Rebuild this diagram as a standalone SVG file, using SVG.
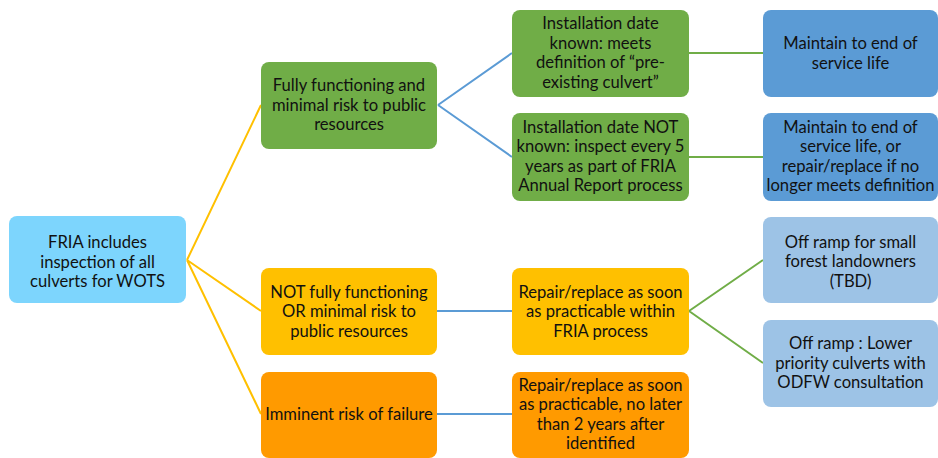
<svg xmlns="http://www.w3.org/2000/svg" width="938" height="458" viewBox="0 0 938 458">
  <style>
    .box { stroke: none; }
    .root { fill: #7DD5FD; }
    .green { fill: #70AD47; }
    .blue { fill: #5B9BD5; }
    .yellow { fill: #FFC000; }
    .orange { fill: #FF9A00; }
    .pale { fill: #9DC3E6; }
    text { font-family: Lato, "Liberation Sans", sans-serif; font-size: 16.6px; fill: #111111; text-anchor: middle; }
    .c-yellow { stroke: #FFC000; stroke-width: 2; fill: none; }
    .c-blue { stroke: #5B9BD5; stroke-width: 2; fill: none; }
    .c-green { stroke: #70AD47; stroke-width: 2; fill: none; }
  </style>

  <!-- connectors -->
  <g id="connectors">
    <path class="c-yellow" d="M187 260 L261 105 M187 260 L261 311 M187 260 L261 414"/>
    <path class="c-blue" d="M438 105 L512 53 M438 105 L512 157"/>
    <path class="c-green" d="M689 53 L763 53 M689 157 L763 157"/>
    <path class="c-blue" d="M437 311 L512 311 M437 414 L512 414"/>
    <path class="c-green" d="M689 311 L763 260 M689 311 L763 363"/>
  </g>

  <g id="root">
    <rect class="box root" x="9" y="216" width="177" height="87" rx="8"/>
    <text x="97.5" y="248">FRIA includes<tspan x="97.5" dy="19.5">inspection of all</tspan><tspan x="97.5" dy="19.5">culverts for WOTS</tspan></text>
  </g>

  <g id="fully-functioning">
    <rect class="box green" x="261" y="62" width="176" height="87" rx="8"/>
    <text x="349" y="91">Fully functioning and<tspan x="349" dy="19.5">minimal risk to public</tspan><tspan x="349" dy="19.5">resources</tspan></text>
  </g>

  <g id="date-known">
    <rect class="box green" x="512" y="10" width="177" height="87" rx="8"/>
    <text x="600.5" y="29">Installation date<tspan x="600.5" dy="19.7">known: meets</tspan><tspan x="600.5" dy="19.7">definition of “pre-</tspan><tspan x="600.5" dy="19.7">existing culvert”</tspan></text>
  </g>

  <g id="date-not-known">
    <rect class="box green" x="512" y="113" width="177" height="88" rx="8"/>
    <text x="600.5" y="132.5">Installation date NOT<tspan x="600.5" dy="19.5">known: inspect every 5</tspan><tspan x="600.5" dy="19.5">years as part of FRIA</tspan><tspan x="600.5" dy="19.5">Annual Report process</tspan></text>
  </g>

  <g id="maintain">
    <rect class="box blue" x="763" y="10" width="175" height="87" rx="8"/>
    <text x="850.5" y="49">Maintain to end of<tspan x="850.5" dy="20">service life</tspan></text>
  </g>

  <g id="maintain-or-repair">
    <rect class="box blue" x="763" y="113" width="175" height="88" rx="8"/>
    <text x="850.5" y="132.5">Maintain to end of<tspan x="850.5" dy="19.5">service life, or</tspan><tspan x="850.5" dy="19.5">repair/replace if no</tspan><tspan x="850.5" dy="19.5">longer meets definition</tspan></text>
  </g>

  <g id="not-fully-functioning">
    <rect class="box yellow" x="261" y="268" width="176" height="87" rx="8"/>
    <text x="349" y="297.5">NOT fully functioning<tspan x="349" dy="19.5">OR minimal risk to</tspan><tspan x="349" dy="19.5">public resources</tspan></text>
  </g>

  <g id="repair-within-fria">
    <rect class="box yellow" x="512" y="268" width="177" height="87" rx="8"/>
    <text x="600.5" y="297.5">Repair/replace as soon<tspan x="600.5" dy="19.5">as practicable within</tspan><tspan x="600.5" dy="19.5">FRIA process</tspan></text>
  </g>

  <g id="imminent-risk">
    <rect class="box orange" x="261" y="372" width="176" height="86" rx="8"/>
    <text x="349" y="419.5">Imminent risk of failure</text>
  </g>

  <g id="repair-two-years">
    <rect class="box orange" x="512" y="372" width="177" height="86" rx="8"/>
    <text x="600.5" y="390.5">Repair/replace as soon<tspan x="600.5" dy="19.5">as practicable, no later</tspan><tspan x="600.5" dy="19.5">than 2 years after</tspan><tspan x="600.5" dy="19.5">identified</tspan></text>
  </g>

  <g id="off-ramp-small">
    <rect class="box pale" x="763" y="217" width="175" height="86" rx="8"/>
    <text x="850.5" y="247.5">Off ramp for small<tspan x="850.5" dy="19.5">forest landowners</tspan><tspan x="850.5" dy="19.5">(TBD)</tspan></text>
  </g>

  <g id="off-ramp-lower">
    <rect class="box pale" x="763" y="320" width="175" height="87" rx="8"/>
    <text x="850.5" y="349">Off ramp : Lower<tspan x="850.5" dy="19.5">priority culverts with</tspan><tspan x="850.5" dy="19.5">ODFW consultation</tspan></text>
  </g>
</svg>
